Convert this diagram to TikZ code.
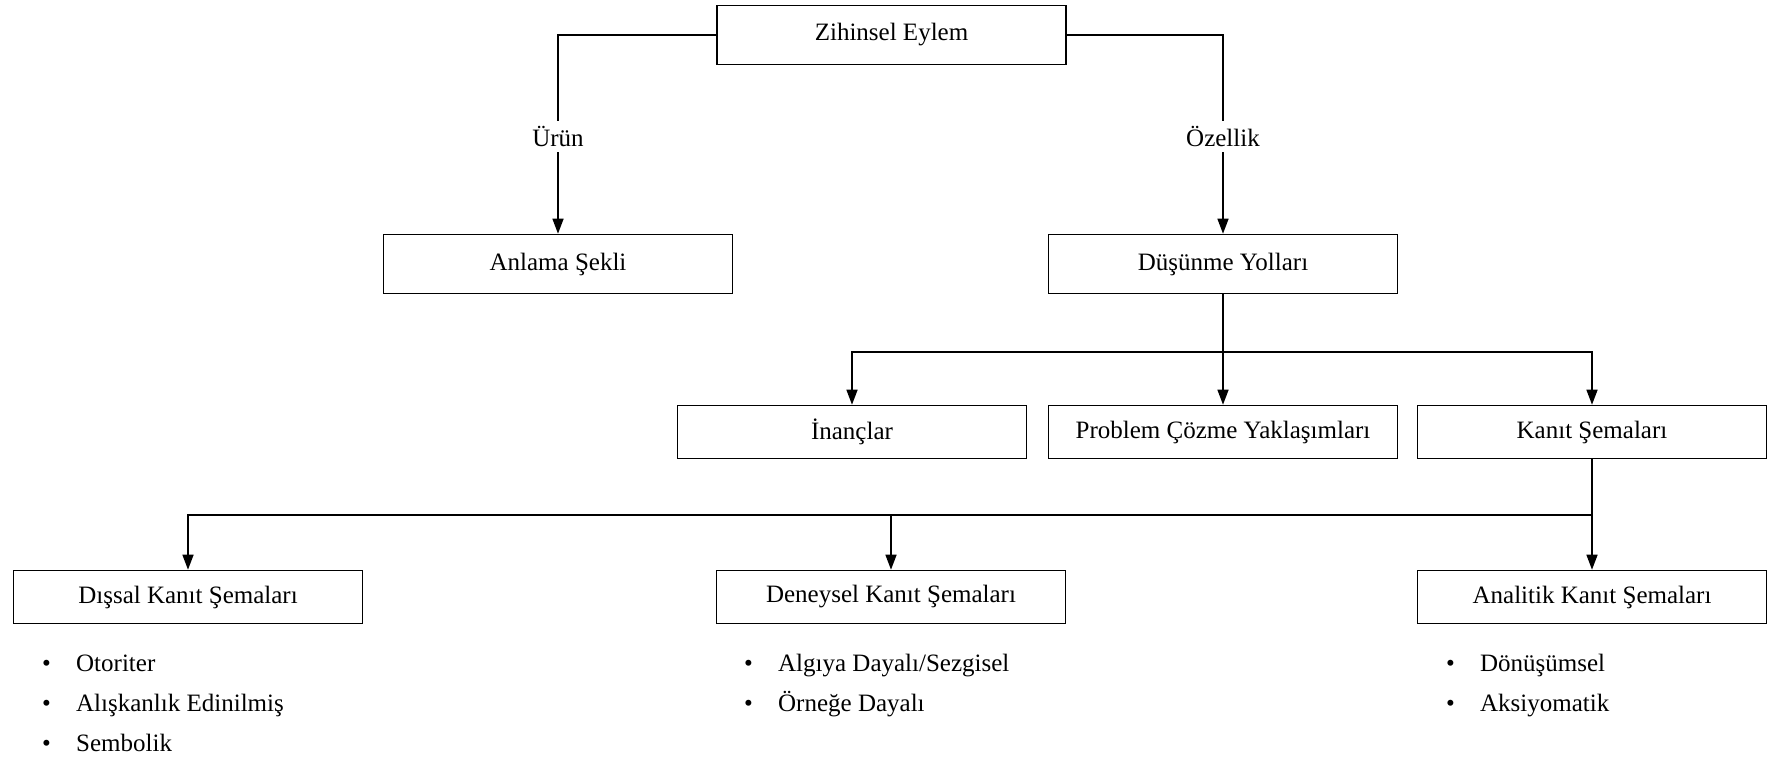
\documentclass[tikz,border=0pt]{standalone}
\usepackage{fontspec}
\setmainfont{Liberation Serif}
\usetikzlibrary{arrows.meta}
\begin{document}
\begin{tikzpicture}[x=1pt,y=-1pt,
  every node/.style={font=\fontsize{25}{30}\selectfont},
  box/.style={draw, line width=1.6pt, minimum width=349pt, inner sep=0pt},
  rowa/.style={box, minimum height=59pt},
  rowb/.style={box, minimum height=53pt},
  conn/.style={line width=1.5pt},
  arr/.style={conn, -{Triangle[length=15pt,width=11pt]}},
  lbl/.style={fill=white, inner sep=5pt},
  item/.style={anchor=base west, inner sep=0pt}]
\useasboundingbox (0,0) rectangle (1767,757);
\node[rowa] (z) at (891.5,35) {Zihinsel Eylem};
\node[rowa] (a) at (558,264) {Anlama Şekli};
\node[rowa] (d) at (1223,264) {Düşünme Yolları};
\node[rowb] (i) at (852,432) {İnançlar};
\node[rowb] (p) at (1223,432) {Problem Çözme Yaklaşımları};
\node[rowb] (k) at (1592,432) {Kanıt Şemaları};
\node[rowb] (ds) at (188,597) {Dışsal Kanıt Şemaları};
\node[rowb] (dn) at (891,597) {Deneysel Kanıt Şemaları};
\node[rowb] (an) at (1592,597) {Analitik Kanıt Şemaları};

\draw[arr] (z.west) -| node[lbl, pos=0.756] {Ürün} (a.north);
\draw[arr] (z.east) -| node[lbl, pos=0.756] {Özellik} (d.north);

\coordinate (dj) at (1223,352);
\draw[arr] (d.south) -- (p.north);
\draw[arr] (dj) -| (i.north);
\draw[arr] (dj) -| (k.north);

\coordinate (kj) at (1592,515);
\draw[arr] (k.south) -- (an.north);
\draw[arr] (kj) -| (ds.north);
\draw[arr] (dn.north |- kj) -- (dn.north);

\node[item] (ds1) at (42,671) {\makebox[34pt][l]{\textbullet}Otoriter};
\node[item] (ds2) at (42,711) {\makebox[34pt][l]{\textbullet}Alışkanlık Edinilmiş};
\node[item] (ds3) at (42,751) {\makebox[34pt][l]{\textbullet}Sembolik};
\node[item] (dn1) at (744,671) {\makebox[34pt][l]{\textbullet}Algıya Dayalı/Sezgisel};
\node[item] (dn2) at (744,711) {\makebox[34pt][l]{\textbullet}Örneğe Dayalı};
\node[item] (an1) at (1446,671) {\makebox[34pt][l]{\textbullet}Dönüşümsel};
\node[item] (an2) at (1446,711) {\makebox[34pt][l]{\textbullet}Aksiyomatik};
\end{tikzpicture}
\end{document}
